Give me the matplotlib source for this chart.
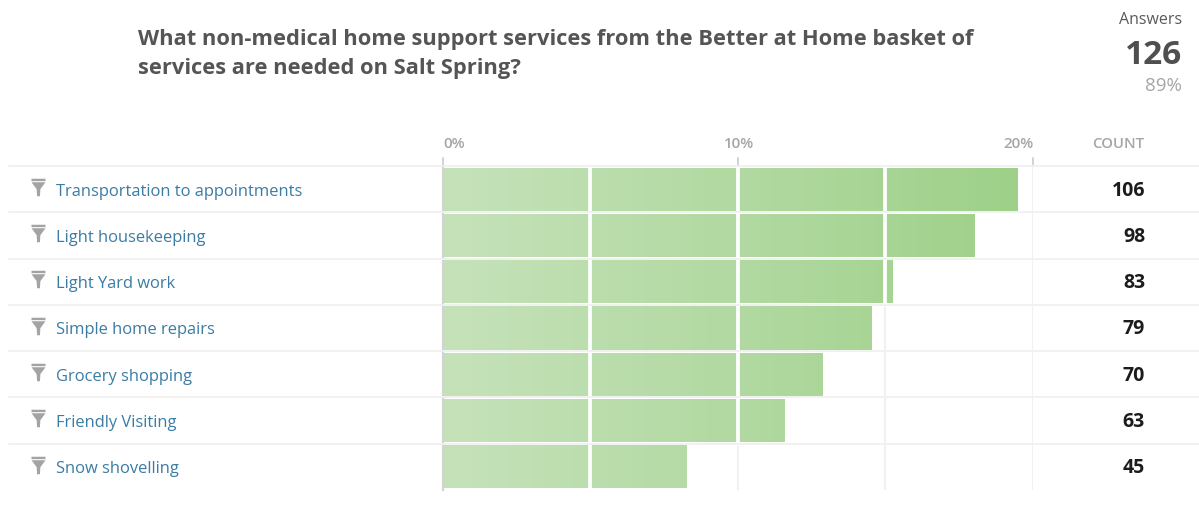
import numpy as np
import matplotlib
matplotlib.use("Agg")
import matplotlib.pyplot as plt
from matplotlib.colors import LinearSegmentedColormap
from matplotlib.path import Path

plt.rcParams['font.family'] = ['Open Sans', 'DejaVu Sans']

title = "What non-medical home support services from the Better at Home basket of\nservices are needed on Salt Spring?"
categories = ["Transportation to appointments", "Light housekeeping", "Light Yard work",
              "Simple home repairs", "Grocery shopping", "Friendly Visiting", "Snow shovelling"]
counts = [106, 98, 83, 79, 70, 63, 45]
percent_ticks = [0, 10, 20]
grid_ticks = [5, 10, 15]
answers = 126
answer_rate = "89%"

W, H = 1199, 512
fig = plt.figure(figsize=(W / 100, H / 100), dpi=100, facecolor="white")

# Plot area in pixel terms: seven rows between y=166 and y=490
PLOT_L, PLOT_R = 442.7, 1033.0
ax = fig.add_axes([PLOT_L / W, 1 - 490 / H, (PLOT_R - PLOT_L) / W, (490 - 166) / H])
ax.axis("off")

share = np.array(counts) / sum(counts) * 100
rows = np.arange(len(categories))
gradient = LinearSegmentedColormap.from_list("bar_fade", ["#c6e2ba", "#9dd088"])
ramp = np.linspace(0, 1, 256).reshape(1, -1)
bar_left = 0.05

# Bars: a horizontal gradient over the whole scale, clipped to each bar
for row, value in zip(rows, share):
    bar = ax.barh(row, value - bar_left, left=bar_left, height=0.93, color="none")[0]
    img = ax.imshow(ramp, cmap=gradient, extent=(0, 20, row + 0.5, row - 0.5),
                    aspect="auto", zorder=2, interpolation="bilinear")
    img.set_clip_path(bar)
ax.set_xlim(0, 20)
ax.set_ylim(6.5, -0.5)

# Vertical guides: pale on white, white across the bars
for tick in grid_ticks:
    ax.axvline(tick, color="#f1f1f1", lw=1.6, zorder=1)
    for row, value in zip(rows, share):
        if value > tick:
            ax.plot([tick, tick], [row - 0.5, row + 0.5], color="white", lw=2.7, zorder=3)
ax.axvline(20, color="#efefef", lw=1.2, zorder=1)
ax.plot([0, 0], [-0.5, 6.5], color="#d4d4d4", lw=1.6, zorder=4, clip_on=False)

# Row separators run the full table width
trans = ax.get_yaxis_transform()
x0 = (9 - PLOT_L) / (PLOT_R - PLOT_L)
x1 = (1199 - PLOT_L) / (PLOT_R - PLOT_L)
for edge in rows - 0.5:
    ax.plot([x0, x1], [edge, edge], transform=trans, color="#f0f0f0", lw=1.3,
            zorder=5, clip_on=False)

# Short ticks above the top separator
for tick in percent_ticks:
    ax.plot([tick, tick], [-0.5, -0.67], color="#c8c8c8", lw=1.1, clip_on=False, zorder=4)


def px(x, y):
    return x / W, 1 - y / H


# Filter icon: flat top band above a tapering funnel
funnel = Path([(-6.4, 8), (6.4, 8), (6.4, 5.8), (-6.4, 5.8), (-6.4, 8),
               (-6.4, 4.8), (6.4, 4.8), (1.7, -1.5), (1.3, -8), (-1.3, -8), (-1.7, -1.5), (-6.4, 4.8)],
              [1, 2, 2, 2, 79, 1, 2, 2, 2, 2, 2, 79])

for row, label, count in zip(rows, categories, counts):
    cy = 189 + 46.33 * row
    fig.add_artist(plt.Line2D([38 / W], [1 - (cy - 2.3) / H], marker=funnel, markersize=12.6,
                              color="#a3a3a3", mew=0, transform=fig.transFigure))
    fig.text(*px(56, cy + 2.5), label, color="#3a7ca5", fontsize=11.85, ha="left", va="center")
    fig.text(*px(1145, cy + 1.5), str(count), color="#1c1c1c", fontsize=14, fontweight="bold",
             ha="right", va="center")

for tick, anchor, ha in zip(percent_ticks, [443, 739, 1034], ["left", "center", "right"]):
    fig.text(*px(anchor, 144), f"{tick}%", color="#a6a6a6", fontsize=10.9, fontweight="semibold",
             ha=ha, va="center")
fig.text(*px(1144, 144), "COUNT", color="#a6a6a6", fontsize=10.7, fontweight="semibold",
         ha="right", va="center")

fig.text(*px(138, 54), title, color="#555555", fontsize=15.75, fontweight="bold",
         ha="left", va="center", linespacing=1.45)

fig.text(*px(1182, 20), "Answers", color="#5a5a5a", fontsize=11.5, ha="right", va="center")
fig.text(*px(1182, 55), str(answers), color="#4f4f4f", fontsize=24, fontweight="bold",
         ha="right", va="center")
fig.text(*px(1182, 86), answer_rate, color="#a6a6a6", fontsize=13.5, ha="right", va="center")

fig.savefig("out.png", dpi=100)
